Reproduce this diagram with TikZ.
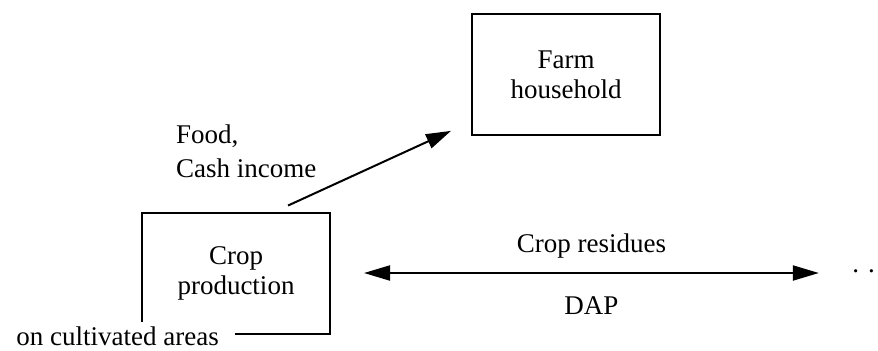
\documentclass[tikz,border=0pt]{standalone}
\usepackage{fontspec}
\setmainfont{Liberation Serif}
\usetikzlibrary{positioning,arrows.meta}

\tikzset{
  unit/.style={draw, line width=1pt, minimum width=94pt, minimum height=60.5pt, align=center, inner sep=0pt},
  flow/.style={line width=1pt, -{Triangle[length=12.5pt,width=7.5pt]}},
  twoway/.style={line width=1pt, {Triangle[length=13pt,width=7.5pt]}-{Triangle[length=13pt,width=7.5pt]}},
}

\begin{document}
\begin{tikzpicture}[x=0.5pt, y=-0.5pt, font=\fontsize{13.5}{15}\selectfont]
        \useasboundingbox (0,0) rectangle (878,350);

        % Boxes
        \node[unit] (farm) at (566,74.5) {Farm\\household};
        \node[unit] (crop) at (236,273) {Crop\\production};

        % Label cutting the corner of the crop box
        \node[fill=white, inner xsep=8pt, inner ysep=2.3pt, anchor=base west] (area) at (0,345) {on cultivated areas};

        % Continuation dots on the right
        \node[inner sep=0pt, anchor=base] (more) at (863.5,272) {. .};

        % Food and cash to the household
        \draw[flow, shorten <=7.2pt, shorten >=11pt] ([xshift=19.5pt]crop.north) -- ([yshift=-23.6pt]farm.west);
        \node[anchor=north west, align=left, font=\fontsize{13.5}{17}\selectfont] (foodlbl) at (169,118) {Food,\\Cash income};

        % Exchange with the next unit
        \draw[twoway, shorten <=16.5pt, shorten >=16.5pt] (crop.east) -- node[above=3.3pt] (resid) {Crop residues} node[below=7.8pt] (dap) {DAP} (crop.east -| more.west);
\end{tikzpicture}
\end{document}
